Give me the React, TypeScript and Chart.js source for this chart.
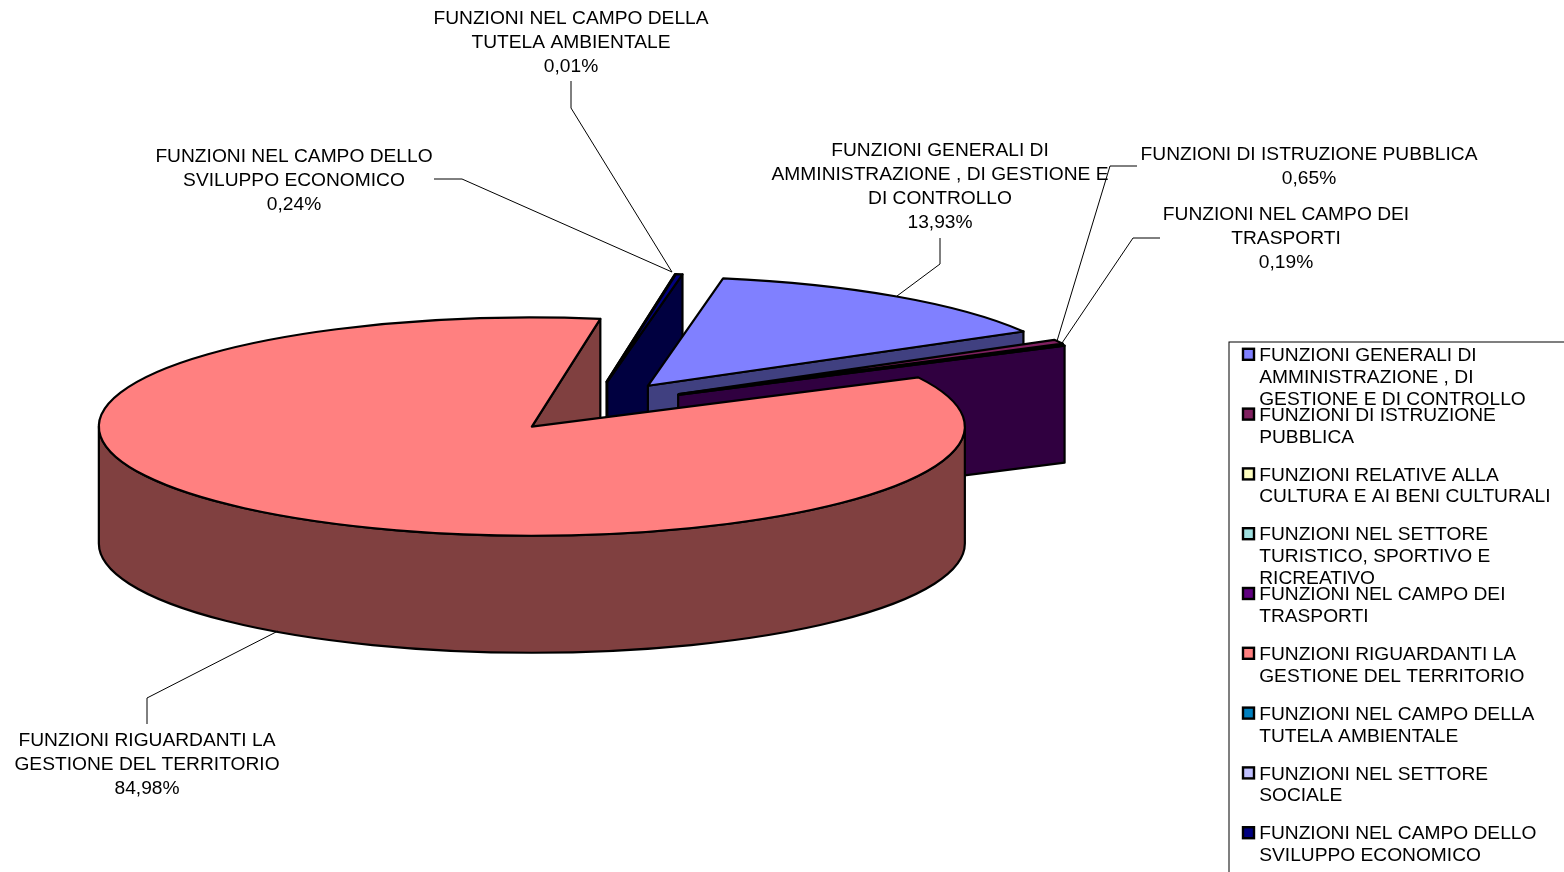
import React, { useEffect, useRef } from "react";
import { Chart, registerables } from "chart.js";

Chart.register(...registerables);

// Budget share of each function, in per cent
const categories = [
  "FUNZIONI GENERALI DI AMMINISTRAZIONE , DI GESTIONE E DI CONTROLLO",
  "FUNZIONI DI ISTRUZIONE PUBBLICA",
  "FUNZIONI RELATIVE ALLA CULTURA E AI BENI CULTURALI",
  "FUNZIONI NEL SETTORE TURISTICO, SPORTIVO E RICREATIVO",
  "FUNZIONI NEL CAMPO DEI TRASPORTI",
  "FUNZIONI RIGUARDANTI LA GESTIONE DEL TERRITORIO",
  "FUNZIONI NEL CAMPO DELLA TUTELA AMBIENTALE",
  "FUNZIONI NEL SETTORE SOCIALE",
  "FUNZIONI NEL CAMPO DELLO SVILUPPO ECONOMICO",
];
const shares = [13.93, 0.65, 0, 0, 0.19, 84.98, 0.01, 0, 0.24];
const explosion = [99, 100, 100, 100, 98, 100.3, 98, 100, 98];
const topColours = ["#8080FF", "#802060", "#FFFFC0", "#A0E0E0", "#600080", "#FF8080", "#0080C0", "#C0C0FF", "#000080"];
const wallColours = ["#404080", "#401030", "#808060", "#507070", "#300040", "#804040", "#004060", "#606080", "#000040"];

const legendLines = [
  ["FUNZIONI GENERALI DI", "AMMINISTRAZIONE , DI", "GESTIONE E DI CONTROLLO"],
  ["FUNZIONI DI ISTRUZIONE", "PUBBLICA"],
  ["FUNZIONI RELATIVE ALLA", "CULTURA E AI BENI CULTURALI"],
  ["FUNZIONI NEL SETTORE", "TURISTICO, SPORTIVO E", "RICREATIVO"],
  ["FUNZIONI NEL CAMPO DEI", "TRASPORTI"],
  ["FUNZIONI RIGUARDANTI LA", "GESTIONE DEL TERRITORIO"],
  ["FUNZIONI NEL CAMPO DELLA", "TUTELA AMBIENTALE"],
  ["FUNZIONI NEL SETTORE", "SOCIALE"],
  ["FUNZIONI NEL CAMPO DELLO", "SVILUPPO ECONOMICO"],
];

// Callouts: which slice, wrapped name, text centre and first row, leader polyline
const callouts = [
  { slice: 6, lines: ["FUNZIONI NEL CAMPO DELLA", "TUTELA AMBIENTALE"], x: 571, y: 18.3, leader: [[571, 81], [571, 108], [672, 272]] },
  { slice: 8, lines: ["FUNZIONI NEL CAMPO DELLO", "SVILUPPO ECONOMICO"], x: 294, y: 156.3, leader: [[434, 179], [462, 179], [672, 272]] },
  { slice: 0, lines: ["FUNZIONI GENERALI DI", "AMMINISTRAZIONE , DI GESTIONE E", "DI CONTROLLO"], x: 940, y: 150.3, leader: [[940, 238], [940, 264], [897, 296]] },
  { slice: 1, lines: ["FUNZIONI DI ISTRUZIONE PUBBLICA"], x: 1309, y: 154.3, leader: [[1137, 166], [1110, 166], [1057, 341]] },
  { slice: 4, lines: ["FUNZIONI NEL CAMPO DEI", "TRASPORTI"], x: 1286, y: 214.3, leader: [[1160, 238], [1133, 238], [1062, 343]] },
  { slice: 5, lines: ["FUNZIONI RIGUARDANTI LA", "GESTIONE DEL TERRITORIO"], x: 147, y: 740.3, leader: [[147, 724], [147, 698], [278, 631]] },
];

const FONT = '19.2px "Liberation Sans", Arial, sans-serif';
const TILT = 0.252;
const DEPTH = 117;
const TAU = Math.PI * 2;

// Draws the arcs that the doughnut controller has laid out as an extruded, flattened pie.
const pie3d = {
  id: "pie3d",
  beforeDatasetsDraw(chart: any) {
    const ctx: CanvasRenderingContext2D = chart.ctx;
    const slices = chart
      .getDatasetMeta(0)
      .data.map((arc: any, index: number) => {
        const mid = (arc.startAngle + arc.endAngle) / 2;
        const e = arc.options.offset;
        return {
          start: arc.startAngle,
          end: arc.endAngle,
          r: arc.outerRadius,
          ax: arc.x + Math.cos(mid) * e,
          ay: arc.y + Math.sin(mid) * e * TILT,
          index,
          empty: arc.endAngle - arc.startAngle <= 0,
        };
      })
      .filter((s: any) => !s.empty)
      .sort((a: any, b: any) => a.ay - b.ay);

    ctx.save();
    ctx.lineWidth = 2.2;
    ctx.lineJoin = "round";
    ctx.strokeStyle = "#000";
    for (const s of slices) {
      const ry = s.r * TILT;
      const paint = (fill: string) => {
        ctx.fillStyle = fill;
        ctx.fill();
        ctx.stroke();
      };
      const face = (t: number) => {
        const rimX = s.ax + Math.cos(t) * s.r;
        const rimY = s.ay + Math.sin(t) * ry;
        ctx.beginPath();
        ctx.moveTo(s.ax, s.ay);
        ctx.lineTo(rimX, rimY);
        ctx.lineTo(rimX, rimY + DEPTH);
        ctx.lineTo(s.ax, s.ay + DEPTH);
        ctx.closePath();
        paint(wallColours[s.index]);
      };
      // Only radial faces turned towards the viewer are visible
      if (Math.cos(s.start) < 0) face(s.start);
      if (Math.cos(s.end) > 0) face(s.end);
      // Rim wall on the front half of the ellipse
      for (let k = -1; k <= 1; k++) {
        const lo = Math.max(s.start, k * TAU);
        const hi = Math.min(s.end, Math.PI + k * TAU);
        if (hi <= lo) continue;
        ctx.beginPath();
        ctx.ellipse(s.ax, s.ay, s.r, ry, 0, lo, hi);
        ctx.ellipse(s.ax, s.ay + DEPTH, s.r, ry, 0, hi, lo, true);
        ctx.closePath();
        paint(wallColours[s.index]);
      }
      ctx.beginPath();
      ctx.moveTo(s.ax, s.ay);
      ctx.ellipse(s.ax, s.ay, s.r, ry, 0, s.start, s.end);
      ctx.closePath();
      paint(topColours[s.index]);
    }
    ctx.restore();
    return false;
  },
};

// Percentage callouts with their leader lines.
const calloutLabels = {
  id: "calloutLabels",
  afterDraw(chart: any) {
    const ctx: CanvasRenderingContext2D = chart.ctx;
    ctx.save();
    ctx.font = FONT;
    ctx.fillStyle = "#000";
    ctx.strokeStyle = "#000";
    ctx.lineWidth = 1;
    ctx.textAlign = "center";
    ctx.textBaseline = "middle";
    for (const c of callouts) {
      const rows = [...c.lines, shares[c.slice].toFixed(2).replace(".", ",") + "%"];
      rows.forEach((row, i) => ctx.fillText(row, c.x, c.y + i * 24));
      ctx.beginPath();
      c.leader.forEach(([x, y], i) => (i ? ctx.lineTo(x, y) : ctx.moveTo(x, y)));
      ctx.stroke();
    }
    ctx.restore();
  },
};

// Legend frame runs past the canvas edge; long entries deliberately keep a fixed row pitch.
const sideLegend = {
  id: "sideLegend",
  afterDraw(chart: any) {
    const ctx: CanvasRenderingContext2D = chart.ctx;
    ctx.save();
    ctx.strokeStyle = "#000";
    ctx.lineWidth = 1;
    ctx.strokeRect(1229, 342, 500, 700);
    ctx.font = FONT;
    ctx.textAlign = "left";
    ctx.textBaseline = "middle";
    legendLines.forEach((lines, i) => {
      const y = 355.8 + i * 59.8;
      ctx.lineWidth = 2.4;
      ctx.fillStyle = topColours[i];
      ctx.fillRect(1243, y - 7, 11, 11);
      ctx.strokeRect(1243, y - 7, 11, 11);
      ctx.fillStyle = "#000";
      lines.forEach((line, j) => ctx.fillText(line, 1259.2, y + j * 21.8));
    });
    ctx.restore();
  },
};

export default function App() {
  const ref = useRef<HTMLCanvasElement>(null);
  useEffect(() => {
    const chart = new Chart(ref.current as HTMLCanvasElement, {
      type: "doughnut",
      data: {
        labels: categories,
        datasets: [{ data: shares, backgroundColor: topColours, offset: explosion, borderWidth: 0 }],
      },
      options: {
        animation: false,
        responsive: false,
        rotation: 10,
        cutout: 0,
        radius: 433,
        layout: { padding: { left: 0, top: 0, right: 382, bottom: 59.6 } },
        plugins: { legend: { display: false }, tooltip: { enabled: false }, title: { display: false } },
      },
      plugins: [pie3d, calloutLabels, sideLegend],
    } as any);
    return () => chart.destroy();
  }, []);
  return (
    <div style={{ position: "absolute", left: 0, top: 0, width: 1564, height: 872, overflow: "hidden", background: "#fff" }}>
      <canvas ref={ref} width={1564} height={872} style={{ display: "block" }} />
    </div>
  );
}
